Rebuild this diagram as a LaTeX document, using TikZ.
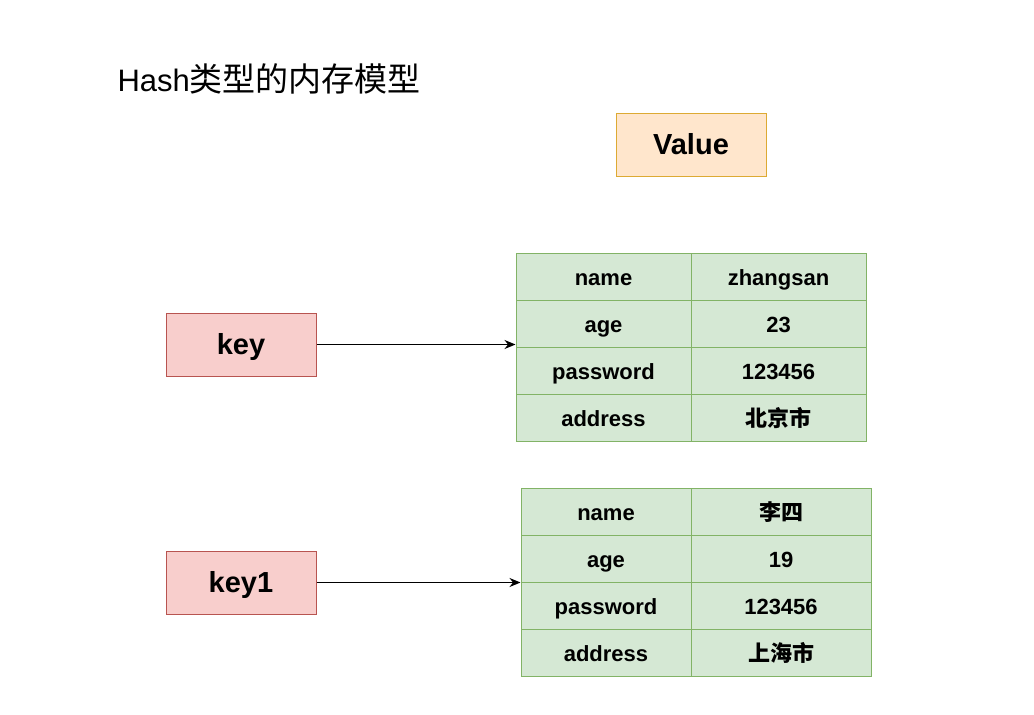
\documentclass[tikz,border=0pt]{standalone}
\usepackage{fontspec}
\setmainfont{Liberation Sans}
\newfontfamily\cjk{Noto Sans CJK SC}
\usepackage{tikz}
\usetikzlibrary{arrows.meta}

\definecolor{keyfill}{HTML}{F8CECC}
\definecolor{keyline}{HTML}{B85450}
\definecolor{valfill}{HTML}{FFE6CC}
\definecolor{valline}{HTML}{DDAA33}
\definecolor{tabfill}{HTML}{D5E8D4}
\definecolor{tabline}{HTML}{82B366}

\begin{document}
\begin{tikzpicture}[x=1pt,y=-1pt,line width=1pt,
    keybox/.style={draw=keyline,fill=keyfill,minimum width=150pt,minimum height=63pt,
        inner sep=0pt,text height=19.5pt,text depth=0pt,font=\fontsize{29}{29}\selectfont\bfseries},
    cell/.style={draw=tabline,fill=tabfill,minimum height=47pt,inner sep=0pt,
        text height=17.5pt,text depth=0pt,font=\fontsize{22}{22}\selectfont\bfseries},
    link/.style={-{Stealth[length=11pt,width=9pt]}}]
    \useasboundingbox (0,0) rectangle (1034,715);
    \node[anchor=base west,inner sep=0pt,font=\fontsize{31}{31}\selectfont] (title) at (117,91)
        {Hash{\fontsize{33}{33}\selectfont\cjk 类型的内存模型}};
    \node[keybox,draw=valline,fill=valfill] (value) at (691,144.5) {Value};
    \node[keybox] (key) at (241,344.5) {key};
    \node[keybox] (key1) at (241,582.5) {key1};
    % first hash
    \foreach \k/\v [count=\i] in {name/zhangsan,age/23,password/123456,address/{\cjk 北京市}}{
        \node[cell,minimum width=175pt] (A-\i-1) at (603.5,229.5+47*\i) {\k};
        \node[cell,minimum width=175pt] (A-\i-2) at (778.5,229.5+47*\i) {\v};
    }
    % second hash
    \foreach \k/\v [count=\i] in {name/{\cjk 李四},age/19,password/123456,address/{\cjk 上海市}}{
        \node[cell,minimum width=170pt] (B-\i-1) at (606,464.5+47*\i) {\k};
        \node[cell,minimum width=180pt] (B-\i-2) at (781,464.5+47*\i) {\v};
    }
    \draw[link] (key) -- (key -| A-2-1.west);
    \draw[link] (key1) -- (B-2-1.south west);
\end{tikzpicture}
\end{document}
